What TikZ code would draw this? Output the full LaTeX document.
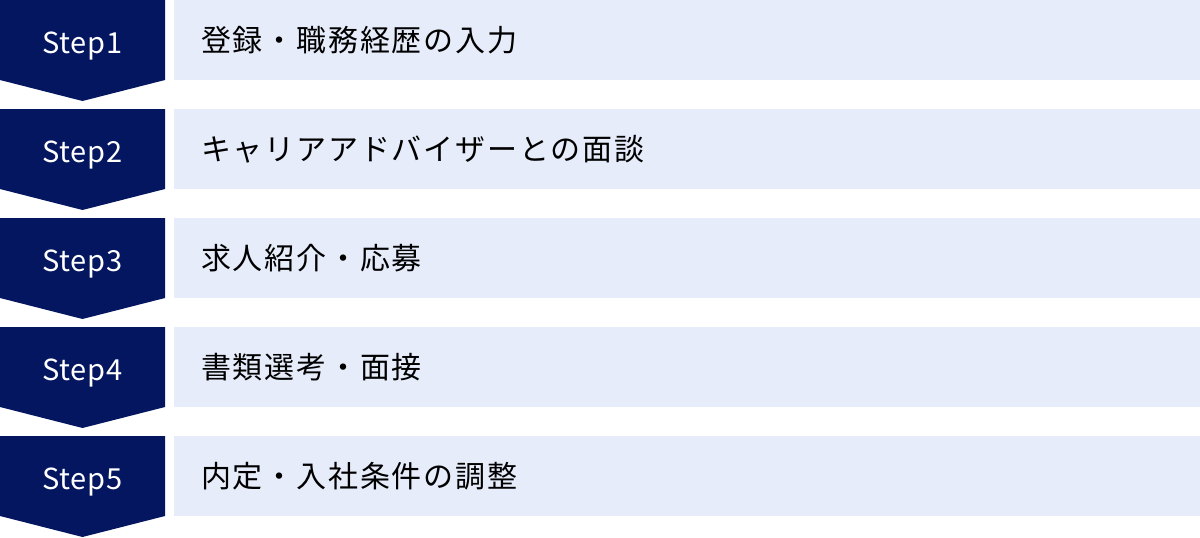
\documentclass[tikz,border=0pt]{standalone}
\usepackage{fontspec}
\setmainfont{Noto Sans CJK JP}[LetterSpace = 6]
\newfontfamily\stepfont{Noto Sans CJK JP}[LetterSpace = 3]
\definecolor{navy}{RGB}{4,22,96}
\definecolor{paleblue}{RGB}{230,236,250}
\tikzset{
  badge/.style = {fill = navy},
  steplabel/.style = {text = white, anchor = base, inner sep = 0pt, font = \stepfont\fontsize{29}{34}\selectfont},
  stepbox/.style = {fill = paleblue, anchor = north west, minimum width = 1026pt, minimum height = 80pt,
    inner xsep = 27pt, text width = 972pt, align = left, font = \fontsize{30}{36}\selectfont}
}
\begin{document}
\begin{tikzpicture}[x = 1pt, y = -1pt]
    \useasboundingbox (0,0) rectangle (1200,538);
    \foreach \i/\txt in {1/登録・職務経歴の入力, 2/キャリアアドバイザーとの面談, 3/求人紹介・応募, 4/書類選考・面接, 5/内定・入社条件の調整}{
        \pgfmathsetmacro{\ytop}{(\i-1)*109}
        \fill[badge] (0,\ytop) -- ++(165,0) -- ++(0,80) -- ++(-82.5,21) -- ++(-82.5,-21) -- cycle;
        \node[steplabel] (step\i) at (82.5,\ytop+53) {Step\i};
        \node[stepbox] (box\i) at (174,\ytop) {\txt};
    }
\end{tikzpicture}
\end{document}
